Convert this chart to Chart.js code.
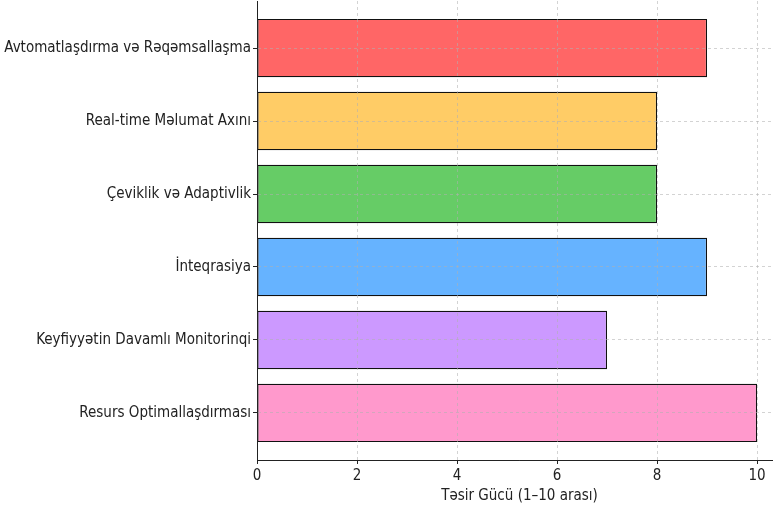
<!DOCTYPE html>
<html>
<head>
<meta charset="utf-8">
<script src="https://cdn.jsdelivr.net/npm/chart.js@4"></script>
<style>
  html, body { margin: 0; padding: 0; background: #fff; overflow: hidden; }
  #wrap { position: absolute; left: 0; top: 0; width: 773px; height: 506px; overflow: hidden; }
  #impactChart { display: block; }
</style>
</head>
<body>
<div id="wrap"><canvas id="impactChart" width="800" height="506"></canvas></div>
<script>
// data
const categories = [
  "Avtomatlaşdırma və Rəqəmsallaşma",
  "Real-time Məlumat Axını",
  "Çeviklik və Adaptivlik",
  "İnteqrasiya",
  "Keyfiyyətin Davamlı Monitorinqi",
  "Resurs Optimallaşdırması"
];
const impactScores = [9, 8, 8, 9, 7, 10];
const barColors = ["#ff6666", "#ffcc66", "#66cc66", "#66b3ff", "#cc99ff", "#ff99cc"];
const xTicks = [0, 2, 4, 6, 8, 10];
const xTitle = "Təsir Gücü (1–10 arası)";

const FONT = "'DejaVu Sans Condensed', 'DejaVu Sans', sans-serif";
const gridColor = "rgba(176,176,176,0.7)";

// -----------------------------
// Build chart (plot area runs past the right edge, like the cropped original)
// -----------------------------
new Chart(document.getElementById("impactChart"), {
  type: "bar",
  data: {
    datasets: [{
      data: impactScores.map((v, i) => ({ x: v, y: i })),
      backgroundColor: barColors,
      borderColor: "#111",
      borderWidth: 1.2,
      borderSkipped: false,
      barPercentage: 1,
      categoryPercentage: 0.8
    }]
  },
  options: {
    indexAxis: "y",
    responsive: false,
    animation: false,
    layout: { padding: { top: 1, right: 18, left: 0, bottom: 0 } },
    plugins: { legend: { display: false }, tooltip: { enabled: false } },
    scales: {
      x: {
        type: "linear",
        min: 0,
        max: 10.5,
        offset: false,
        afterBuildTicks: axis => { axis.ticks = xTicks.map(v => ({ value: v })); },
        afterFit: scale => { scale.height = 46; scale.paddingLeft = 0; scale.paddingRight = 0; },
        ticks: { color: "#222", font: { family: FONT, size: 15 }, padding: 3, maxRotation: 0 },
        grid: {
          offset: false, color: gridColor, lineWidth: 0.8, z: 1,
          drawTicks: true, tickLength: 4, tickColor: "#222", tickWidth: 1, tickBorderDash: []
        },
        border: { display: true, color: "#222", width: 1, dash: [3, 3], z: 2 },
        title: {
          display: true, text: xTitle, color: "#222",
          font: { family: FONT, size: 15 }, padding: { top: 0, bottom: 1 }
        }
      },
      y: {
        type: "linear",
        reverse: true,
        min: -0.645,
        max: 5.645,
        offset: false,
        afterBuildTicks: axis => { axis.ticks = categories.map((_, i) => ({ value: i })); },
        afterFit: scale => { scale.width = 257; scale.paddingTop = 0; scale.paddingBottom = 0; },
        ticks: {
          color: "#222", font: { family: FONT, size: 15 }, padding: 2,
          callback: v => categories[v]
        },
        grid: {
          offset: false, color: gridColor, lineWidth: 0.8, z: 1,
          drawTicks: true, tickLength: 4, tickColor: "#222", tickWidth: 1, tickBorderDash: []
        },
        border: { display: true, color: "#222", width: 1, dash: [3, 3], z: 2 }
      }
    }
  }
});
</script>
</body>
</html>
